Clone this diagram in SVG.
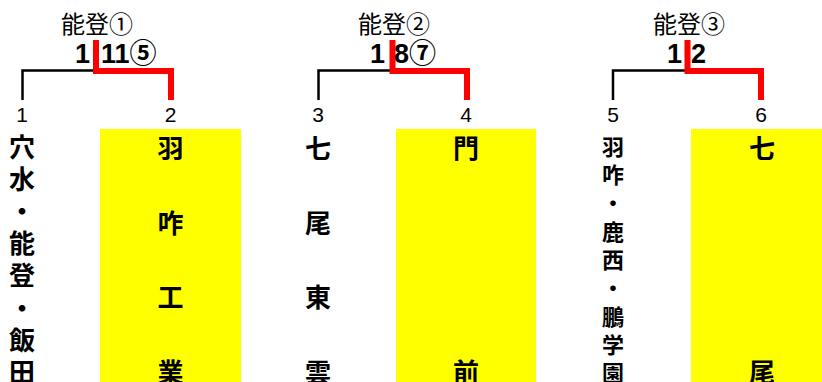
<svg xmlns="http://www.w3.org/2000/svg" width="822" height="382" viewBox="0 0 822 382">
<style>
.title{font-family:"Noto Sans CJK JP",sans-serif;font-size:24px;fill:#000;text-anchor:middle}
.score{font-family:"Liberation Sans","Noto Sans CJK JP",sans-serif;font-size:27px;font-weight:bold;fill:#000}
.num{font-family:"Liberation Sans",sans-serif;font-size:21px;fill:#000;text-anchor:middle}
.name{font-family:"Noto Sans CJK JP",sans-serif;font-size:26px;font-weight:bold;fill:#000;text-anchor:middle;dominant-baseline:central}
.name.sm{font-size:22px}
.win{fill:#FFFF00}
.lose{fill:none;stroke:#000;stroke-width:2.5;stroke-linejoin:miter}
.wline{fill:none;stroke:#FF0000;stroke-width:6;stroke-linejoin:miter}
</style>
<rect width="822" height="382" fill="#fff"/>
<g id="connectors">
<path class="lose" d="M22.5,100 V70.5 H95"/>
<path class="wline" d="M96,40 V71 H171 V100"/>
<path class="lose" d="M318.5,100 V70.5 H391"/>
<path class="wline" d="M392.5,40 V71 H467 V100"/>
<path class="lose" d="M613,100 V70.5 H686"/>
<path class="wline" d="M687.5,40 V71 H761 V100"/>
</g>
<g id="match1">
<text class="title" x="97" y="33">能登①</text>
<text class="score" x="90" y="63" text-anchor="end">1</text>
<text class="score" x="101" y="63">11⑤</text>
</g>
<g id="match2">
<text class="title" x="394" y="33">能登②</text>
<text class="score" x="385" y="63" text-anchor="end">1</text>
<text class="score" x="394" y="63">8⑦</text>
</g>
<g id="match3">
<text class="title" x="689" y="33">能登③</text>
<text class="score" x="682" y="63" text-anchor="end">1</text>
<text class="score" x="691" y="63">2</text>
</g>
<g id="team1">
<text class="num" x="22" y="122">1</text>
<text class="name" x="22"><tspan x="22" y="145">穴</tspan><tspan x="22" y="177">水</tspan><tspan x="22" y="209">・</tspan><tspan x="22" y="241">能</tspan><tspan x="22" y="273">登</tspan><tspan x="22" y="306">・</tspan><tspan x="22" y="338">飯</tspan><tspan x="22" y="370">田</tspan></text>
</g>
<g id="team2">
<rect class="win" x="100" y="129" width="141" height="253"/>
<text class="num" x="170.5" y="122">2</text>
<text class="name" x="170.5"><tspan x="170.5" y="146">羽</tspan><tspan x="170.5" y="221">咋</tspan><tspan x="170.5" y="295">工</tspan><tspan x="170.5" y="370">業</tspan></text>
</g>
<g id="team3">
<text class="num" x="318" y="122">3</text>
<text class="name" x="318"><tspan x="318" y="146">七</tspan><tspan x="318" y="221">尾</tspan><tspan x="318" y="295">東</tspan><tspan x="318" y="370">雲</tspan></text>
</g>
<g id="team4">
<rect class="win" x="396" y="129" width="140" height="253"/>
<text class="num" x="466" y="122">4</text>
<text class="name" x="466"><tspan x="466" y="146">門</tspan><tspan x="466" y="370">前</tspan></text>
</g>
<g id="team5">
<text class="num" x="613" y="122">5</text>
<text class="name sm" x="613"><tspan x="613" y="145">羽</tspan><tspan x="613" y="173">咋</tspan><tspan x="613" y="201">・</tspan><tspan x="613" y="230">鹿</tspan><tspan x="613" y="258">西</tspan><tspan x="613" y="286">・</tspan><tspan x="613" y="315">鵬</tspan><tspan x="613" y="343">学</tspan><tspan x="613" y="371">園</tspan></text>
</g>
<g id="team6">
<rect class="win" x="691" y="129" width="131" height="253"/>
<text class="num" x="761" y="122">6</text>
<text class="name" x="762"><tspan x="762" y="146">七</tspan><tspan x="762" y="370">尾</tspan></text>
</g>
</svg>
